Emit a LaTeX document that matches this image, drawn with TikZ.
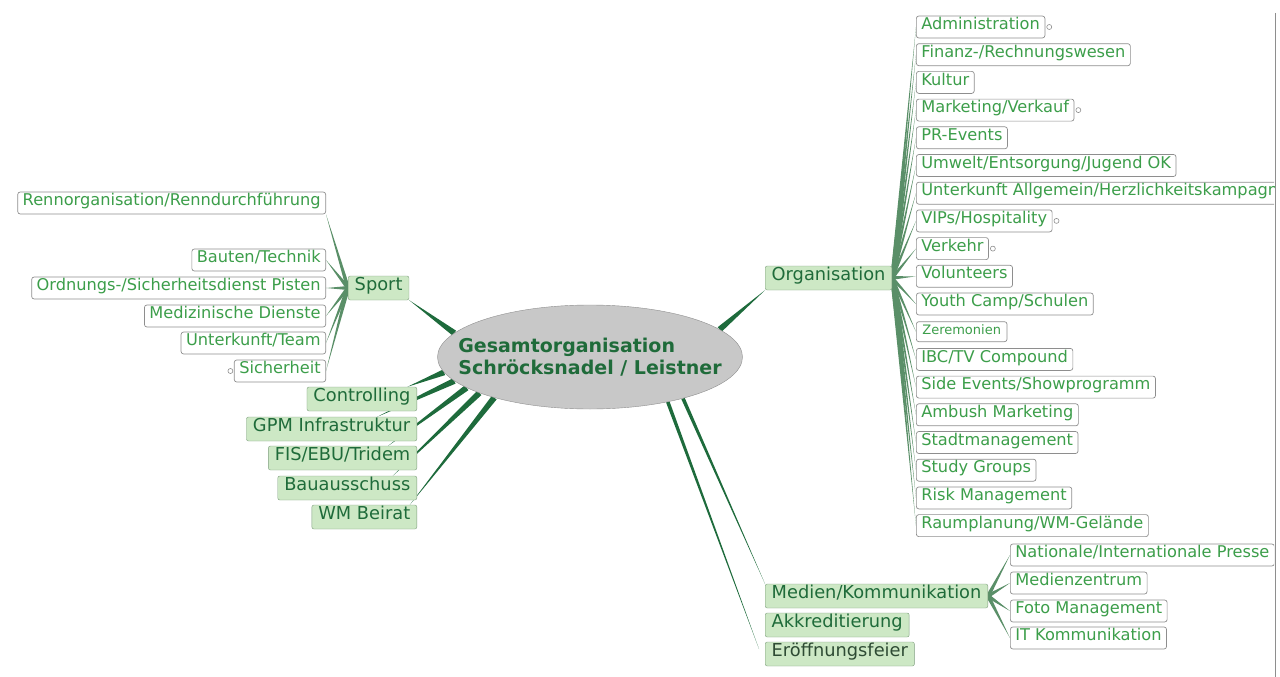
\documentclass[tikz,border=0pt]{standalone}
\usepackage{fontspec}
\setmainfont{DejaVu Sans}
\usetikzlibrary{shapes.geometric,calc,backgrounds}

\definecolor{topicgreen}{HTML}{1F6B3A}
\definecolor{leafgreen}{HTML}{3C9E4A}
\definecolor{topicfill}{HTML}{CDE8C5}
\definecolor{topicline}{HTML}{7E9E7E}
\definecolor{leafline}{HTML}{8E8E8E}
\definecolor{branchgreen}{HTML}{1E6B3C}
\definecolor{twiggreen}{HTML}{5A8F68}
\definecolor{centrefill}{HTML}{C8C8C8}
\definecolor{darktopic}{HTML}{2E4B34}

\tikzset{
  topic/.style={draw=topicline, fill=topicfill, rounded corners=2pt,
    text=topicgreen, font=\fontsize{17.8}{20}\selectfont,
    inner xsep=6.5pt, inner ysep=1pt, minimum height=24pt,
    text height=0.76em, text depth=0.22em},
  leaf/.style={draw=leafline, fill=white, rounded corners=2.5pt,
    line width=0.7pt, text=leafgreen, font=\fontsize{16.2}{18}\selectfont,
    inner xsep=5pt, inner ysep=1pt, minimum height=22pt,
    text height=0.74em, text depth=0.22em},
  fold/.style={draw=leafline, fill=white, line width=0.6pt},
}

% tapered branch: thick at #2, pointed at #3
\newcommand\branch[4][branchgreen]{%
  \fill[#1] ($(#2)!#4!90:(#3)$) -- (#3) -- ($(#2)!#4!-90:(#3)$) -- cycle;}

\begin{document}
\begin{tikzpicture}[x=1pt,y=-1pt]
\useasboundingbox (0,0) rectangle (1280,677);
\begin{scope}
  \clip (0,0) rectangle (1274,677);
  % centre
  \node[ellipse, draw=leafline, fill=centrefill, minimum width=305pt,
    minimum height=104pt, inner sep=0pt] (ctr) at (590,357) {};
  \node[text=topicgreen, align=left, font=\bfseries\fontsize{19}{22}\selectfont]
    (ctrtext) at (ctr.center) {Gesamtorganisation\\Schröcksnadel / Leistner};

  % left side
  \node[topic, anchor=west] (sport) at (348,288) {Sport};
  \node[leaf, anchor=east] (renn) at (326,203) {Rennorganisation/Renndurchführung};
  \node[leaf, anchor=east] (bauten) at (326,260) {Bauten/Technik};
  \node[leaf, anchor=east] (ordn) at (326,288) {Ordnungs-/Sicherheitsdienst Pisten};
  \node[leaf, anchor=east] (medi) at (326,316) {Medizinische Dienste};
  \node[leaf, anchor=east] (unterteam) at (326,343) {Unterkunft/Team};
  \node[leaf, anchor=east] (sich) at (326,371) {Sicherheit};

  \node[topic, anchor=east] (ctrl) at (417,399) {Controlling};
  \node[topic, anchor=east] (gpm) at (417,429) {GPM Infrastruktur};
  \node[topic, anchor=east] (fis) at (417,458) {FIS/EBU/Tridem};
  \node[topic, anchor=east] (bau) at (417,488) {Bauausschuss};
  \node[topic, anchor=east] (wm) at (417,517) {WM Beirat};

  % right side
  \node[topic, anchor=west] (org) at (765,278) {Organisation};
  \node[leaf, anchor=west] (adm) at (916,27) {Administration};
  \node[leaf, anchor=west] (fin) at (916,54.7) {Finanz-/Rechnungswesen};
  \node[leaf, anchor=west] (kult) at (916,82.4) {Kultur};
  \node[leaf, anchor=west] (mark) at (916,110.1) {Marketing/Verkauf};
  \node[leaf, anchor=west] (pr) at (916,137.8) {PR-Events};
  \node[leaf, anchor=west] (umw) at (916,165.5) {Umwelt/Entsorgung/Jugend OK};
  \node[leaf, anchor=west] (unterall) at (916,193.2) {Unterkunft Allgemein/Herzlichkeitskampagne};
  \node[leaf, anchor=west] (vip) at (916,220.9) {VIPs/Hospitality};
  \node[leaf, anchor=west] (verk) at (916,248.6) {Verkehr};
  \node[leaf, anchor=west] (vol) at (916,276.3) {Volunteers};
  \node[leaf, anchor=west] (youth) at (916,304) {Youth Camp/Schulen};
  \node[leaf, anchor=west, font=\fontsize{13}{15}\selectfont, minimum height=20pt,
    inner xsep=6pt] (zer) at (916,331.7) {Zeremonien};
  \node[leaf, anchor=west] (ibc) at (916,359.4) {IBC/TV Compound};
  \node[leaf, anchor=west] (side) at (916,387.1) {Side Events/Showprogramm};
  \node[leaf, anchor=west] (amb) at (916,414.8) {Ambush Marketing};
  \node[leaf, anchor=west] (stadt) at (916,442.5) {Stadtmanagement};
  \node[leaf, anchor=west] (study) at (916,470.2) {Study Groups};
  \node[leaf, anchor=west] (risk) at (916,497.9) {Risk Management};
  \node[leaf, anchor=west] (raum) at (916,525.6) {Raumplanung/WM-Gelände};

  \node[topic, anchor=west] (medien) at (765,596) {Medien/Kommunikation};
  \node[topic, anchor=west] (akk) at (765,625) {Akkreditierung};
  \node[topic, anchor=west, text=darktopic] (eroeff) at (765,654) {Eröffnungsfeier};
  \node[leaf, anchor=west] (presse) at (1010,555) {Nationale/Internationale Presse};
  \node[leaf, anchor=west] (mzent) at (1010,583) {Medienzentrum};
  \node[leaf, anchor=west] (foto) at (1010,611) {Foto Management};
  \node[leaf, anchor=west] (itk) at (1010,638) {IT Kommunikation};
\end{scope}

% window edge
\draw[leafline, line width=1pt] (1275,13) -- (1275,677);

% folded markers
\foreach \n in {adm,mark,vip,verk}
  \draw[fold] ([xshift=4pt]\n.east) circle (2.5pt);
\draw[fold] ([xshift=-3.5pt]sich.west) circle (2.5pt);

% branches
\begin{scope}[on background layer]
  \branch{ctr.170}{sport.south east}{3pt}
  \branch{ctr.186}{ctrl.15}{3pt}
  \branch{ctr.190}{gpm.15}{3pt}
  \branch{ctr.194}{fis.15}{3pt}
  \branch{ctr.198}{bau.15}{3pt}
  \branch{ctr.203}{wm.15}{3pt}
  \branch{ctr.12}{org.south west}{3pt}
  \branch{ctr.336}{medien.north west}{1.8pt}
  \branch{ctr.330}{[xshift=-6pt,yshift=5pt]eroeff.west}{1.8pt}

  \branch[twiggreen]{sport.west}{renn.south east}{2pt}
  \foreach \n in {bauten,ordn,medi,unterteam,sich}
    \branch[twiggreen]{sport.west}{\n.east}{2pt};

  \foreach \n in {adm,fin,kult,mark,pr,umw,unterall,vip,verk,vol,youth,zer,ibc,side,amb,stadt,study,risk,raum}
    \branch[twiggreen]{org.east}{\n.west}{1.8pt};

  \foreach \n in {presse,mzent,foto,itk}
    \branch[twiggreen]{medien.east}{\n.west}{2pt};
\end{scope}
\end{tikzpicture}
\end{document}
